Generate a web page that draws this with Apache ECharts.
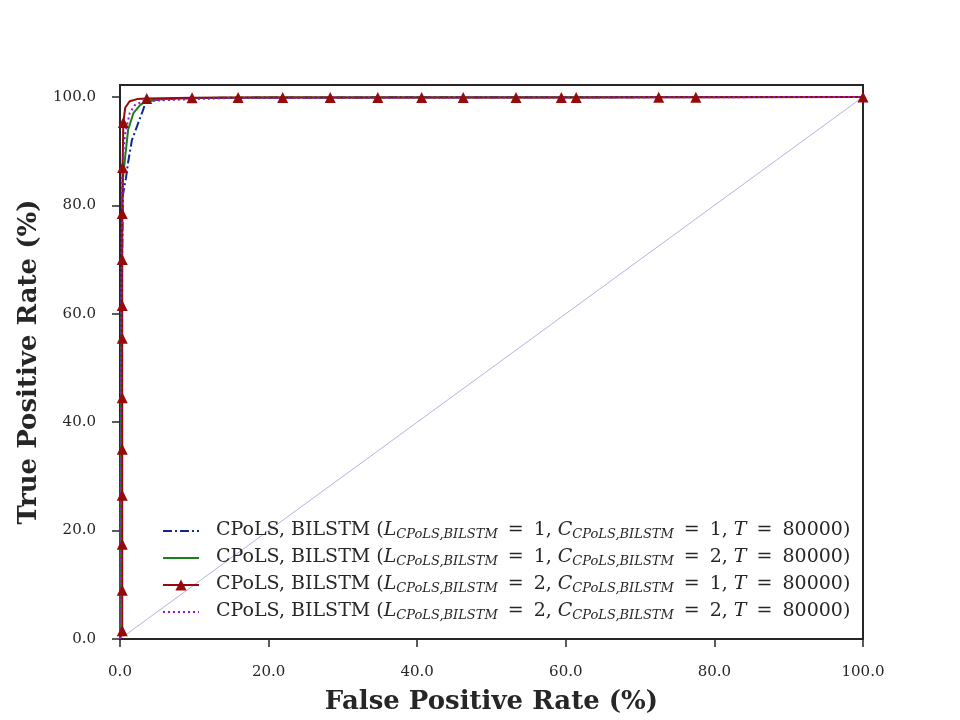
<!DOCTYPE html>
<html>
<head>
<meta charset="utf-8">
<script src="https://cdn.jsdelivr.net/npm/echarts@6/dist/echarts.min.js"></script>
<style>
  html, body { margin: 0; padding: 0; background: #fff; }
  #chart { width: 960px; height: 720px; }
</style>
</head>
<body>
<div id="chart"></div>
<script>
// tick values
const xTicks = [0, 20, 40, 60, 80, 100]
const yTicks = [0, 20, 40, 60, 80, 100]

// legend parameters (L, C)
const legendL = [1, 1, 2, 2]
const legendC = [1, 2, 1, 2]
const seriesNames = legendL.map((l, i) =>
  'CPoLS, BILSTM (L_CPoLS,BILSTM = ' + l + ', C_CPoLS,BILSTM = ' + legendC[i] + ', T = 80000)')

// chance diagonal
const diagFpr = [0, 100]
const diagTpr = [0, 100]

// L=1, C=1 (blue dash-dot)
const blueFpr = [0, 0.05, 0.1, 0.15, 0.2, 0.3, 0.4, 0.8, 1.1, 1.6, 2.4, 3.0, 3.4, 4.0, 6.0, 10, 20, 100]
const blueTpr = [0, 10, 30, 50, 62, 72, 82, 85, 88, 92, 95, 97.2, 98.8, 99.3, 99.6, 99.8, 99.9, 100]

// L=1, C=2 (green)
const greenFpr = [0, 0.1, 0.2, 0.3, 0.4, 0.7, 1.1, 1.8, 2.7, 3.6, 6.0, 10, 20, 100]
const greenTpr = [0, 30, 60, 78, 85, 89, 94, 97, 98.5, 99.3, 99.6, 99.8, 99.9, 100]

// L=2, C=1 (red, triangles where marked)
const redFpr = [0, 0.3, 0.3, 0.3, 0.3, 0.3, 0.3, 0.3, 0.3, 0.3, 0.3, 0.35, 0.45, 0.7, 1.3, 2.3, 3.6,
  9.7, 15.9, 21.9, 28.3, 34.7, 40.6, 46.2, 53.3, 59.4, 61.4, 72.5, 77.5, 100]
const redTpr = [0, 1.5, 9, 17.5, 26.5, 35, 44.5, 55.5, 61.5, 70, 78.5, 87, 95.3, 98, 99.2, 99.6, 99.7,
  99.85, 99.9, 99.9, 99.9, 99.9, 99.9, 99.9, 99.9, 99.9, 99.9, 99.95, 99.95, 100]
const redMarked = [0, 1, 1, 1, 1, 1, 1, 1, 1, 1, 1, 1, 1, 0, 0, 0, 1,
  1, 1, 1, 1, 1, 1, 1, 1, 1, 1, 1, 1, 1]

// L=2, C=2 (purple dotted)
const purpleFpr = [0, 0.1, 0.2, 0.3, 0.4, 0.7, 1.3, 2.0, 3.1, 6.0, 10, 15, 100]
const purpleTpr = [0, 40, 70, 85, 89, 93.3, 97, 98.5, 99.2, 99.4, 99.6, 99.8, 100]

const serif = 'DejaVu Serif'
const ink = '#262626'

const pairs = (xs, ys) => xs.map((x, i) => [x, ys[i]])

const chart = echarts.init(document.getElementById('chart'))

const lineSeries = (name, xs, ys, color, type, width) => ({
  name,
  type: 'line',
  data: pairs(xs, ys),
  symbol: 'none',
  color,
  lineStyle: { color, width, type },
  z: 3
})

// legend entries: hide the default circle for series without markers
const legendData = seriesNames.map((name, i) =>
  i === 2 ? { name } : { name, itemStyle: { opacity: 0 } })

chart.setOption({
  animation: false,
  grid: {
    left: 120, right: 97, top: 85, bottom: 80,
    show: true, borderColor: ink, borderWidth: 2, backgroundColor: '#fff'
  },
  legend: {
    orient: 'vertical',
    left: 162,
    top: 521,
    padding: 0,
    itemWidth: 36,
    itemHeight: 14,
    itemGap: 7,
    data: legendData,
    formatter: name => {
      const i = seriesNames.indexOf(name)
      return '{sp|}{a|CPoLS, BILSTM (}{i|L}{s|CPoLS,BILSTM}{eq|=}{a|' + legendL[i] + ', }{i|C}{s|CPoLS,BILSTM}{eq|=}{a|' +
        legendC[i] + ', }{i|T}{eq|=}{a|80000)}'
    },
    textStyle: {
      rich: {
        sp: { width: 12 },
        a: { fontFamily: serif, fontSize: 19, color: ink, verticalAlign: 'top', lineHeight: 20 },
        eq: { fontFamily: serif, fontSize: 19, color: ink, verticalAlign: 'top', lineHeight: 20, padding: [0, 10, 0, 10] },
        i: { fontFamily: serif, fontSize: 19, fontStyle: 'italic', color: ink, verticalAlign: 'top', lineHeight: 20 },
        s: { fontFamily: serif, fontSize: 13, fontStyle: 'italic', color: ink, verticalAlign: 'bottom', lineHeight: 14 }
      }
    }
  },
  xAxis: {
    type: 'value',
    min: 0,
    max: 100,
    name: 'False Positive Rate (%)',
    nameLocation: 'middle',
    nameGap: 50,
    nameTextStyle: { fontFamily: serif, fontSize: 26, fontWeight: 'bold', color: ink },
    splitLine: { show: false },
    axisLine: { show: true, lineStyle: { color: ink, width: 2 } },
    axisTick: { show: true, length: 8, lineStyle: { color: ink, width: 1.5 }, customValues: xTicks },
    axisLabel: {
      margin: 26, fontFamily: serif, fontSize: 15, color: ink,
      customValues: xTicks, formatter: v => v.toFixed(1)
    }
  },
  yAxis: {
    type: 'value',
    min: 0,
    max: 102.2,
    name: 'True Positive Rate (%)',
    nameLocation: 'middle',
    nameGap: 76,
    nameTextStyle: { fontFamily: serif, fontSize: 26, fontWeight: 'bold', color: ink },
    splitLine: { show: false },
    axisLine: { show: true, lineStyle: { color: ink, width: 2 } },
    axisTick: { show: true, length: 8, lineStyle: { color: ink, width: 1.5 }, customValues: yTicks },
    axisLabel: {
      margin: 24, fontFamily: serif, fontSize: 15, color: ink,
      customValues: yTicks, formatter: v => v.toFixed(1)
    }
  },
  series: [
    {
      name: 'diagonal',
      type: 'line',
      data: pairs(diagFpr, diagTpr),
      symbol: 'none',
      lineStyle: { color: '#8080d0', width: 0.6 },
      z: 2
    },
    lineSeries(seriesNames[0], blueFpr, blueTpr, '#0d2a8c', [9, 3, 2, 3], 2),
    lineSeries(seriesNames[1], greenFpr, greenTpr, '#1a801a', 'solid', 2),
    {
      name: seriesNames[2],
      type: 'line',
      data: redFpr.map((x, i) => redMarked[i]
        ? { value: [x, redTpr[i]] }
        : { value: [x, redTpr[i]], symbol: 'none' }),
      symbol: 'triangle',
      symbolSize: 11,
      showAllSymbol: true,
      color: '#960a0a',
      itemStyle: { color: '#960a0a' },
      lineStyle: { color: '#960a0a', width: 2 },
      z: 3
    },
    lineSeries(seriesNames[3], purpleFpr, purpleTpr, '#9a10d8', [2, 3], 2)
  ]
})
</script>
</body>
</html>
